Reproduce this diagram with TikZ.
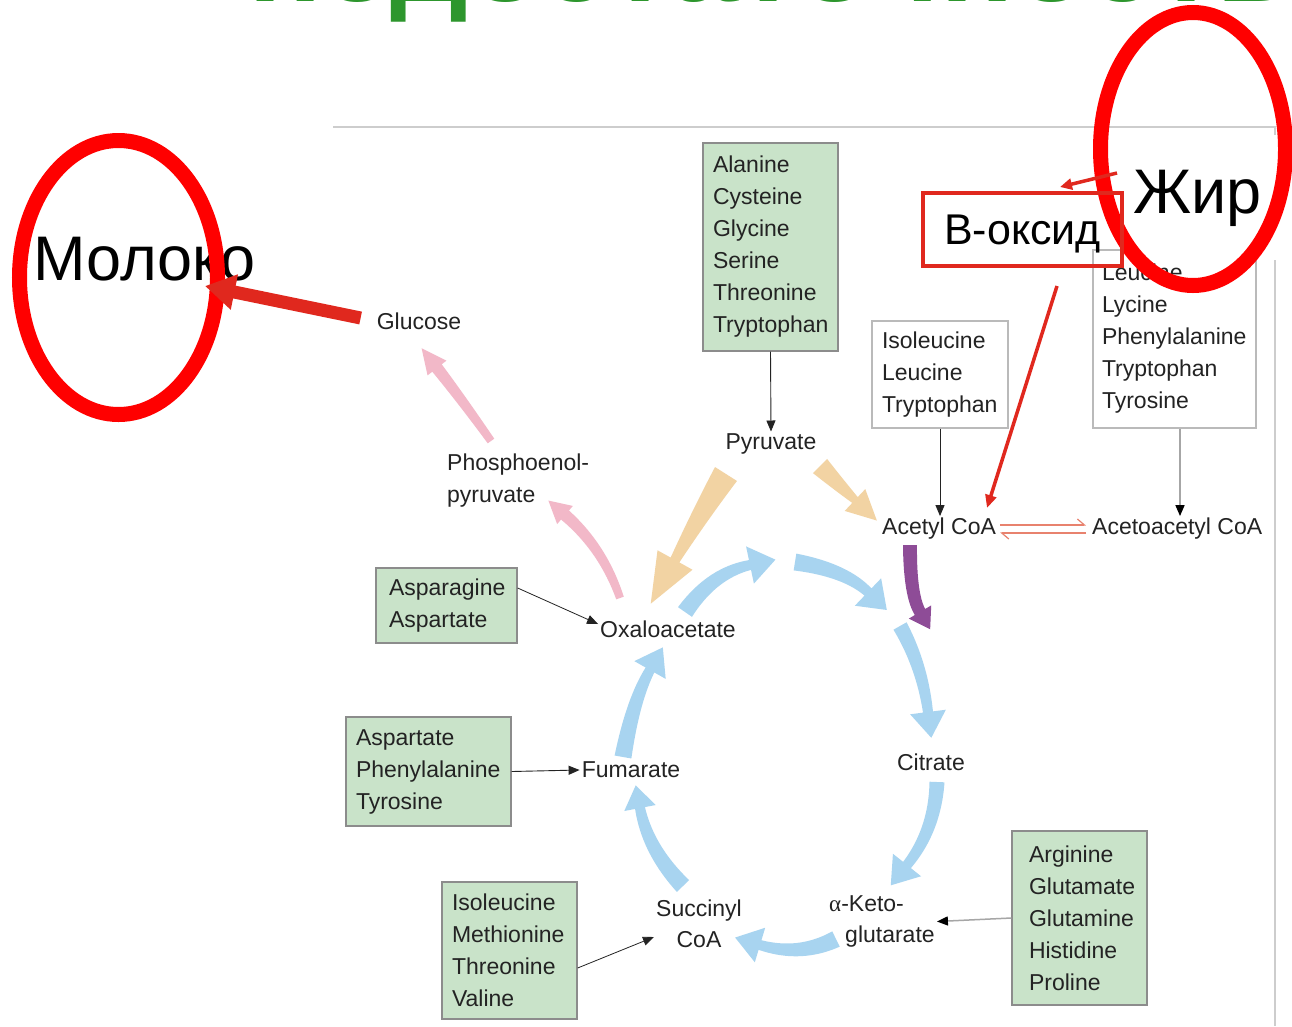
\documentclass[tikz,border=0pt]{standalone}
\usepackage{fontspec}
\setmainfont{Liberation Sans}
\newfontfamily\grk{Liberation Serif}
\usetikzlibrary{arrows.meta}
\definecolor{titlegreen}{RGB}{45,150,45}
\definecolor{boxgreen}{RGB}{201,227,201}
\definecolor{boxline}{RGB}{140,140,140}
\definecolor{txt}{RGB}{35,35,35}
\definecolor{framegray}{RGB}{205,205,205}
\definecolor{cyc}{RGB}{168,212,240}
\definecolor{pinkarr}{RGB}{242,184,200}
\definecolor{tanarr}{RGB}{242,211,163}
\definecolor{purparr}{RGB}{142,76,151}
\definecolor{hilite}{RGB}{255,0,0}
\definecolor{hidark}{RGB}{224,40,30}
\definecolor{salmon}{RGB}{232,130,110}
\def\tkpts#1/#2/#3/#4/#5/#6\relax{\def\ax{#1}\def\ay{#2}\def\cx{#3}\def\cy{#4}\def\sx{#5}\def\sy{#6}}
\def\tkw#1/#2/#3/#4\relax{\def\wa{#1}\def\wb{#2}\def\hw{#3}\def\hl{#4}}
\newcommand\tarrow[3]{%
  \tkpts#2\relax\tkw#3\relax
  \pgfmathsetmacro\ex{\sx-\cx}%
  \pgfmathsetmacro\ey{\sy-\cy}%
  \pgfmathsetmacro\el{veclen(\ex,\ey)}%
  \pgfmathsetmacro\ux{\ex/\el}%
  \pgfmathsetmacro\uy{\ey/\el}%
  \fill[#1] plot[variable=\t,domain=0:1,samples=20,smooth]
      ({Px(\t)+Wd(\t)*Nx(\t)},{Py(\t)+Wd(\t)*Ny(\t)})
    -- ({\sx-\hw*\uy},{\sy+\hw*\ux})
    -- ({\sx+\hl*\ux},{\sy+\hl*\uy})
    -- ({\sx+\hw*\uy},{\sy-\hw*\ux})
    -- plot[variable=\t,domain=1:0,samples=20,smooth]
      ({Px(\t)-Wd(\t)*Nx(\t)},{Py(\t)-Wd(\t)*Ny(\t)})
    -- cycle;
}
\begin{document}
\begin{tikzpicture}[x=1pt,y=-1pt,
  declare function={
    Px(\t)=(1-\t)*(1-\t)*\ax+2*\t*(1-\t)*\cx+\t*\t*\sx;
    Py(\t)=(1-\t)*(1-\t)*\ay+2*\t*(1-\t)*\cy+\t*\t*\sy;
    Dx(\t)=0.05*((1-\t)*(\cx-\ax)+\t*(\sx-\cx));
    Dy(\t)=0.05*((1-\t)*(\cy-\ay)+\t*(\sy-\cy));
    Nx(\t)=-Dy(\t)/veclen(Dx(\t),Dy(\t));
    Ny(\t)=Dx(\t)/veclen(Dx(\t),Dy(\t));
    Wd(\t)=(\wa+(\wb-\wa)*\t)/2;
  },
  lab/.style={font=\fontsize{23}{32}\selectfont, text=txt, inner sep=2pt},
  lab2/.style={lab, font=\fontsize{23}{31}\selectfont},
  gbox/.style={lab, draw=boxline, line width=1.3pt, fill=boxgreen, align=left, inner xsep=10pt, inner ysep=0pt},
  wbox/.style={gbox, fill=white, draw=boxline!60},
  tarr/.style={draw=txt, line width=0.9pt, -{Triangle[length=11pt,width=9pt]}},
  garr/.style={draw=black!35, line width=1.5pt, -{Triangle[length=11pt,width=9pt,color=black]}},
]
\clip (0,0) rectangle (1292,1026);
\fill[white] (0,0) rectangle (1292,1026);
% title (cut off at the top)
\node[anchor=base west, inner sep=0pt, text=titlegreen, font=\bfseries\fontsize{104}{112}\selectfont, xscale=1.18, transform shape] (title) at (248,1) {недостаточность};
% frame
\draw[framegray, line width=2pt] (333,127) -- (1275,127) -- (1275,1026);
% boxes
\node[gbox, minimum width=135pt, minimum height=208pt, text width=115pt] (ala) at (770.5,247) {Alanine\\Cysteine\\Glycine\\Serine\\Threonine\\Tryptophan};
\node[gbox, minimum width=141pt, minimum height=75pt, text width=115pt, inner xsep=13pt] (aspn) at (446.5,605.5) {Asparagine\\Aspartate};
\node[gbox, minimum width=165pt, minimum height=109pt, text width=145pt] (aspt) at (428.5,771.5) {Aspartate\\Phenylalanine\\Tyrosine};
\node[gbox, minimum width=135pt, minimum height=137pt, text width=115pt] (iso4) at (509.5,950.5) {Isoleucine\\Methionine\\Threonine\\Valine};
\node[gbox, minimum width=135pt, minimum height=174pt, text width=101pt, inner xsep=17pt] (arg) at (1079.5,918) {Arginine\\Glutamate\\Glutamine\\Histidine\\Proline};
\node[wbox, minimum width=136pt, minimum height=107pt, text width=116pt] (ilt) at (940,374.5) {Isoleucine\\Leucine\\Tryptophan};
\node[wbox, minimum width=163pt, minimum height=178pt, text width=145pt, inner xsep=9pt] (leu) at (1174.5,339) {Leucine\\Lycine\\Phenylalanine\\Tryptophan\\Tyrosine};
% labels
\node[lab] (glu) at (419,321) {Glucose};
\node[lab, align=left, anchor=west] (pep) at (445,481) {Phosphoenol-\\pyruvate};
\node[lab] (pyr) at (771,444) {Pyruvate};
\node[lab, anchor=west] (acoa) at (880,529) {Acetyl CoA};
\node[lab, anchor=west] (aaco) at (1090,529) {Acetoacetyl CoA};
\node[lab] (oaa) at (668,629) {Oxaloacetate};
\node[lab] (cit) at (931,762) {Citrate};
\node[lab] (fum) at (631,770) {Fumarate};
\node[lab2, align=center] (suc) at (699,924) {Succinyl\\CoA};
\node[lab2, align=left, anchor=west] (akg) at (827,921.5) {{\grk α}-Keto-\\\hspace*{16pt}glutarate};
% block arrows of the cycle
\tarrow{cyc}{685/612/712/573/750/565}{17/10/19/26}
\tarrow{cyc}{795/562/845/570/868/592}{17/10/19/26}
\tarrow{cyc}{900/626/922/665/928/712}{15/10/18/26}
\tarrow{cyc}{937/782/935/830/907/865}{15/10/18/26}
\tarrow{cyc}{836/939/800/957/760/945}{17/10/18/26}
\tarrow{cyc}{683/886/648/850/640/808}{17/10/16/23}
\tarrow{cyc}{623/757/633/700/650/670}{17/10/18/26}
\tarrow{pinkarr}{620/598/603/548/565/515}{8/12/12/22}
\tarrow{pinkarr}{491/441/462/400/437/368}{8/12/12/25}
\tarrow{tanarr}{726/474/700/515/675/560}{26/10/20/50}
\tarrow{tanarr}{820/466/838/484/855/500}{20/8/15/30}
\tarrow{purparr}{910/545/910/595/920/612}{14/12/13/20}
% thin arrows
\draw[tarr] (ala.south) -- (pyr.north);
\draw[tarr] (ilt.south) -- (ilt.south |- acoa.north);
\draw[garr] ([xshift=5.5pt]leu.south) -- ([xshift=5.5pt]leu.south |- aaco.north);
\draw[tarr, line width=0.8pt] ([yshift=17.5pt]aspn.east) -- ([yshift=5pt]oaa.west);
\draw[tarr] (aspt.east) -- (fum.west);
\draw[tarr, line width=0.8pt] ([yshift=-17.5pt]iso4.east) -- ([yshift=-13pt]suc.west);
\draw[garr] (arg.west) -- (akg.east);
% equilibrium acetyl CoA / acetoacetyl CoA
\draw[salmon, line width=1.2pt, shorten <=2pt, shorten >=4pt, -{Straight Barb[harpoon,length=7pt,width=12pt]}] ([yshift=4pt]acoa.east) -- ([yshift=4pt]aaco.west);
\draw[salmon, line width=1.2pt, shorten <=4pt, shorten >=2pt, -{Straight Barb[harpoon,length=7pt,width=12pt]}] ([yshift=-4pt]aaco.west) -- ([yshift=-4pt]acoa.east);
% annotations in red
\fill[white] (1122,135) rectangle (1282,260);
\node[font=\fontsize{63}{70}\selectfont, inner sep=0pt, anchor=base west] (zhir) at (1133,213) {Жир};
\node[font=\fontsize{63}{70}\selectfont, inner sep=0pt, anchor=base west] (moloko) at (33,280) {Молоко};
\draw[hilite, line width=15pt] (1193,149) ellipse [x radius=92.5, y radius=136.5];
\draw[hilite, line width=15pt] (118.5,277.5) ellipse [x radius=99, y radius=137];
\node[draw=hidark, line width=4pt, minimum width=199pt, minimum height=73pt, inner sep=0pt, text depth=0pt, font=\fontsize{43}{48}\selectfont] (boks) at (1022.5,229.5) {В-оксид};
\coordinate (zs) at (1117,173);
\coordinate (mtip) at (205,286);
\coordinate (bs) at (1057,286);
\coordinate (ae) at (987,508);
\draw[hidark, line width=3.5pt, -{Triangle[length=12pt,width=11pt]}] (zs) -- ([xshift=37.5pt,yshift=4pt]boks.north);
\draw[hidark, line width=3.5pt, -{Triangle[length=13pt,width=11pt]}] (bs) -- (ae);
\draw[hidark, line width=13pt, -{Triangle[length=30pt,width=34pt]}] ([xshift=-14pt,yshift=3pt]glu.west) -- (mtip);
\end{tikzpicture}
\end{document}
